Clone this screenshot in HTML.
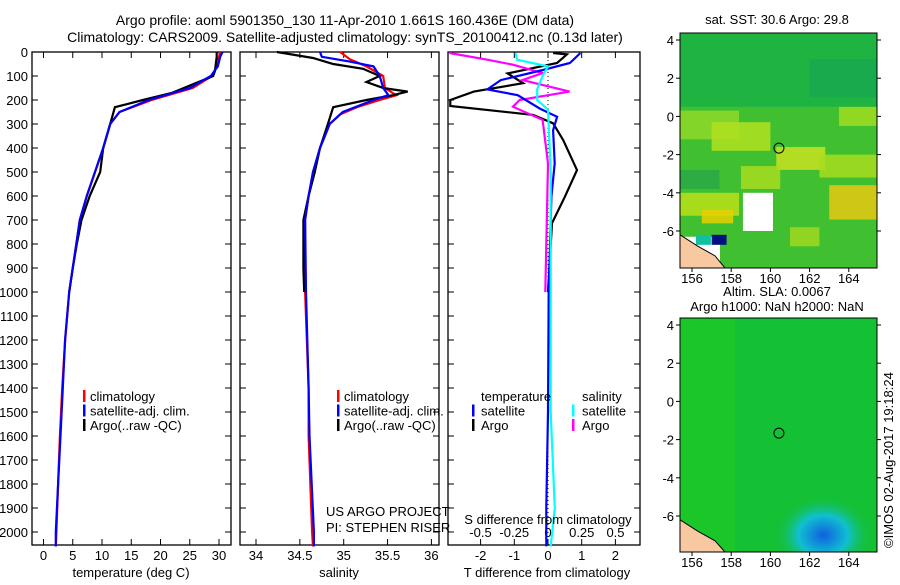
<!DOCTYPE html>
<html><head><meta charset="utf-8"><style>
body{margin:0;background:#fff;}
svg text{font-family:"Liberation Sans",sans-serif;font-size:13px;fill:#000;}
</style></head><body>
<svg id="c" width="900" height="580" viewBox="0 0 900 580">
<text x="345" y="25" text-anchor="middle" style="font-size:14px">Argo profile: aoml 5901350_130 11-Apr-2010 1.661S 160.436E (DM data)</text>
<text x="345" y="42" text-anchor="middle" style="font-size:14px">Climatology: CARS2009. Satellite-adjusted climatology: synTS_20100412.nc (0.13d later)</text>
<g id="plots"></g>
<g id="maps"></g>
<text transform="translate(893,548) rotate(-90)" style="font-size:13px">©IMOS 02-Aug-2017 19:18:24</text>
</svg>
<script>
// ---- data ----
const tClimDepth=[0,20,60,100,150,200,250,300,400,500,600,700,800,1000,1200,1400,1600,1800,2000,2060];
const tClim=[30.2,30,29.6,28.8,25.5,18.5,13,11.4,10.2,8.8,7.4,6.2,5.6,4.4,3.7,3.2,2.8,2.5,2.2,2.1];
const tSat=[30.6,30.2,29.8,28.6,25,18,13,11.4,10.2,8.8,7.4,6.2,5.6,4.4,3.7,3.3,2.9,2.5,2.1,2.1];
const tArgoDepth=[0,20,80,100,170,200,230,300,400,500,600,700,800,900,1000];
const tArgo=[29.6,29.6,29.3,29,22,17,12.2,11.4,10.2,9.7,7.9,6.5,5.7,5,4.4];
const sClimDepth=[0,30,60,100,150,180,200,230,260,300,400,500,600,700,1000,1400,1600,2000,2060];
const sClim=[34.96,35.07,35.26,35.45,35.47,35.6,35.41,35.15,34.96,34.84,34.73,34.65,34.6,34.56,34.56,34.6,34.6,34.64,34.65];
const sSatDepth=[0,20,40,60,100,150,180,200,250,300,400,500,600,700,1000,1400,1600,2000,2060];
const sSat=[34.73,34.75,35.07,35.34,35.41,35.45,35.51,35.34,34.99,34.84,34.73,34.65,34.6,34.56,34.57,34.6,34.61,34.66,34.66];
const sArgoDepth=[0,25,50,70,100,125,150,165,180,200,230,300,400,500,600,700,900,1000];
const sArgo=[34.24,34.65,34.88,35.22,35.41,35.26,35.45,35.73,35.56,35.26,34.88,34.82,34.73,34.67,34.6,34.54,34.54,34.55];
const dtArgoDepth=[4,10,46,89,130,165,200,225,262,297,367,492,603,713,1000];
const dtArgo=[0.15,0.56,0.27,-1.2,-0.74,-2.2,-2.9,-2.9,-0.44,0.15,0.45,0.86,0.5,0.12,0];
const dtSatDepth=[4,46,75,117,156,180,236,270,326,464,603,1000,1500,1900,2060];
const dtSat=[0.96,0.65,-0.15,-1.4,-1.8,-0.9,-0.24,0.27,0.15,0.2,0.1,0.02,0,-0.05,-0.05];
const dsSatDepth=[4,32,60,100,156,200,240,500,1000,1500,1900,2060];
const dsSat=[-0.24,-0.23,0,-0.04,-0.08,-0.08,0,0.02,0.02,0.02,0.05,0.02];
const dsArgoDepth=[4,32,53,88,117,165,200,228,283,464,1000];
const dsArgo=[-0.73,-0.45,-0.26,-0.04,-0.19,0.16,-0.21,-0.26,-0.04,0,-0.02];
const depthTicks=[0,100,200,300,400,500,600,700,800,900,1000,1100,1200,1300,1400,1500,1600,1700,1800,1900,2000];
const tTicks=[0,5,10,15,20,25,30];
const sTicks=[34,34.5,35,35.5,36];
const sTickLabels=["34","34.5","35","35.5","36"];
const dtTicks=[-2,-1,0,1,2];
const dsTicks=[-0.5,-0.25,0,0.25,0.5];
const lonTicks=[156,158,160,162,164];
const latTicks=[4,2,0,-2,-4,-6];

const NS='http://www.w3.org/2000/svg';
function mk(tag,attrs,parent,txt){const e=document.createElementNS(NS,tag);for(const k in attrs)e.setAttribute(k,attrs[k]);if(txt!==undefined)e.textContent=txt;parent.appendChild(e);return e;}
const plots=document.getElementById('plots');
const TOP=52,BOT=545;
const yD=d=>TOP+d*0.24;
const xT=t=>43.5+t*5.85;
const xS=s=>256+(s-34)*87.7;
const xDT=v=>548+v*33.7;
const xDS=v=>548+v*135;

function frame(x0,x1,name){
  const r=mk('rect',{x:x0,y:TOP,width:x1-x0,height:BOT-TOP,fill:'none',stroke:'#000','stroke-width':1.3},plots);
  
  
  depthTicks.forEach(d=>{
    mk('line',{x1:x0,x2:x0+6,y1:yD(d),y2:yD(d),stroke:'#000'},plots);
    mk('line',{x1:x1,x2:x1-6,y1:yD(d),y2:yD(d),stroke:'#000'},plots);
  });
}
function xticks(vals,fx,labels,y,name){
  vals.forEach((v,i)=>{
    const x=fx(v);
    mk('line',{x1:x,x2:x,y1:BOT,y2:BOT-6,stroke:'#000'},plots);
    mk('line',{x1:x,x2:x,y1:TOP,y2:TOP+6,stroke:'#000'},plots);
    const t=mk('text',{x:x,y:y,'text-anchor':'middle'},plots,labels[i]);
    
    
  });
}
function line(depths,vals,fx,color,name,w){
  const pts=depths.map((d,i)=>fx(vals[i]).toFixed(1)+','+yD(d).toFixed(1)).join(' ');
  const p=mk('polyline',{points:pts,fill:'none',stroke:color,'stroke-width':w||2.2},plots);
  
  
}
// panel 1
frame(32,231,'temperature-panel');
depthTicks.forEach(d=>{
  const t=mk('text',{x:28,y:yD(d)+5,'text-anchor':'end'},plots,String(d));
  
  
});
xticks(tTicks,xT,tTicks.map(String),560,'temperature-tick-label');
line(tClimDepth,tClim,xT,'#f00','temperature-climatology-line');
line(tArgoDepth,tArgo,xT,'#000','temperature-argo-line');
line(tClimDepth,tSat,xT,'#00f','temperature-satellite-line');
// panel 2
frame(240,439,'salinity-panel');
xticks(sTicks,xS,sTickLabels,560,'salinity-tick-label');
line(sClimDepth,sClim,xS,'#f00','salinity-climatology-line');
line(sArgoDepth,sArgo,xS,'#000','salinity-argo-line');
line(sSatDepth,sSat,xS,'#00f','salinity-satellite-line');
// panel 3
frame(448,640,'difference-panel');
mk('line',{x1:xDT(0),x2:xDT(0),y1:TOP,y2:BOT,stroke:'#000','stroke-dasharray':'1,3'},plots);
xticks(dtTicks,xDT,dtTicks.map(String),560,'t-diff-tick-label');
dsTicks.forEach(v=>{
  const t=mk('text',{x:xDS(v),y:537,'text-anchor':'middle'},plots,String(v));
  
  
});
line(dtArgoDepth,dtArgo,xDT,'#000','t-diff-argo-line');
line(dsArgoDepth,dsArgo,xDS,'#f0f','s-diff-argo-line');
line(dtSatDepth,dtSat,xDT,'#00f','t-diff-satellite-line');
line(dsSatDepth,dsSat,xDS,'#0ff','s-diff-satellite-line');

function lbl(x,y,s,name,anchor){const t=mk('text',{x:x,y:y,'text-anchor':anchor||'start'},plots,s);}
function bar(x,y,c){mk('rect',{x:x,y:y-11,width:2.5,height:12,fill:c},plots);}
lbl(131,577,'temperature (deg C)','temperature-axis-title','middle');
lbl(339,577,'salinity','salinity-axis-title','middle');
lbl(547,577,'T difference from climatology','t-diff-axis-title','middle');
lbl(548,524,'S difference from climatology','s-diff-axis-title','middle');
[['climatology','#f00'],['satellite-adj. clim.','#00f'],['Argo(..raw -QC)','#000']].forEach((e,i)=>{
  bar(83,401+i*14.5,e[1]);lbl(90,401+i*14.5,e[0],'temperature-legend-entry');
  bar(337,401+i*14.5,e[1]);lbl(344,401+i*14.5,e[0],'salinity-legend-entry');
});
lbl(481,401,'temperature','diff-legend-temperature-header');
lbl(582,401,'salinity','diff-legend-salinity-header');
bar(472,415.5,'#00f');lbl(481,415.5,'satellite','diff-legend-t-satellite');
bar(472,430,'#000');lbl(481,430,'Argo','diff-legend-t-argo');
bar(572,415.5,'#0ff');lbl(582,415.5,'satellite','diff-legend-s-satellite');
bar(572,430,'#f0f');lbl(582,430,'Argo','diff-legend-s-argo');
lbl(326,516,'US ARGO PROJECT','project-label');
lbl(326,532,'PI: STEPHEN RISER','pi-label');

// ---- maps ----
const maps=document.getElementById('maps');
const MX0=680,MX1=877;
const xLon=l=>692+(l-156)*19.6;
function map(top,bot,name,title1,title2,kind){
  const yLat=la=>top+7+(4-la)*19.1;
  const cp=mk('clipPath',{id:'clip-'+kind},maps);
  mk('rect',{x:MX0,y:top,width:MX1-MX0,height:bot-top},cp);
  const g=mk('g',{},maps);
  
  
  const gi=mk('g',{'clip-path':'url(#clip-'+kind+')'},g);
  if(kind==='sst'){
    mk('rect',{x:MX0,y:top,width:MX1-MX0,height:bot-top,fill:'#1fb442'},gi);
    mk('rect',{x:MX0,y:yLat(0.5),width:MX1-MX0,height:bot-yLat(0.5),fill:'#40c030'},gi);
    const patches=[[155.4,-1.2,3,1.5,'#90d828'],[157,-1.8,3,1.5,'#b0e020'],[160.3,-2.8,2.5,1.2,'#c8e020'],[158.5,-3.8,2,1.2,'#a8dc20'],[155.4,-5.2,3,1.2,'#b8e018'],[156.5,-5.6,1.6,0.7,'#e8d000'],[163,-5.4,2.6,1.8,'#e8c810'],[162.5,-3.2,3,1.2,'#a8dc20'],[163.5,-0.5,2,1,'#a0dc20'],[161,-6.8,1.5,1,'#a0d820'],[155.4,-3.8,2,1,'#2aa848'],[162,1,3.5,2,'#1aa850']];
    patches.forEach(p=>mk('rect',{x:xLon(p[0]),y:yLat(p[1]+p[3]),width:p[2]*19.6,height:p[3]*19.1,fill:p[4],opacity:0.85},gi));
    mk('rect',{x:xLon(158.6),y:yLat(-4),width:30,height:yLat(-6)-yLat(-4),fill:'#fff'},gi);
    mk('rect',{x:MX0,y:yLat(-6.3),width:40,height:bot-yLat(-6.3),fill:'#fff'},gi);
    mk('rect',{x:xLon(157),y:yLat(-6.2),width:15,height:10,fill:'#001080'},gi);
    mk('rect',{x:xLon(156.2),y:yLat(-6.2),width:15,height:10,fill:'#10c0a0'},gi);
  } else {
    mk('rect',{x:MX0,y:top,width:MX1-MX0,height:bot-top,fill:'#14c034'},gi);
    mk('rect',{x:MX0,y:top,width:55,height:bot-top,fill:'#28d018',opacity:0.35},gi);
    const rg=mk('radialGradient',{id:'blob'},gi);
    mk('stop',{offset:'0','stop-color':'#1060e0'},rg);mk('stop',{offset:'0.5','stop-color':'#10c0d0'},rg);mk('stop',{offset:'1','stop-color':'#14c034','stop-opacity':0},rg);
    mk('ellipse',{cx:xLon(162.7),cy:yLat(-7),rx:50,ry:40,fill:'url(#blob)'},gi);
  }
  mk('path',{d:`M${MX0} ${yLat(-6.2)} L${MX0+18} ${yLat(-6.8)} L${MX0+35} ${yLat(-7.3)} L${MX0+45} ${bot} L${MX0} ${bot}Z`,fill:'#f8c8a0',stroke:'#000'},gi);
  mk('circle',{cx:xLon(160.436),cy:yLat(-1.661),r:5,fill:'none',stroke:'#000'},g);
  mk('rect',{x:MX0,y:top,width:MX1-MX0,height:bot-top,fill:'none',stroke:'#000'},g);
  lonTicks.forEach(l=>{mk('line',{x1:xLon(l),x2:xLon(l),y1:bot,y2:bot+4,stroke:'#000'},g);
    const t=mk('text',{x:xLon(l),y:bot+15,'text-anchor':'middle'},g,String(l));});
  latTicks.forEach(la=>{mk('line',{x1:MX0,x2:MX0-4,y1:yLat(la),y2:yLat(la),stroke:'#000'},g);mk('line',{x1:MX1,x2:MX1+4,y1:yLat(la),y2:yLat(la),stroke:'#000'},g);
    const t=mk('text',{x:MX0-6,y:yLat(la)+5,'text-anchor':'end'},g,String(la));});
  if(title2){const a=mk('text',{x:777,y:top-22,'text-anchor':'middle'},g,title1);
    const b=mk('text',{x:777,y:top-7,'text-anchor':'middle'},g,title2);}
  else{const a=mk('text',{x:777,y:top-9,'text-anchor':'middle'},g,title1);}
}
map(33,268,'sst-map','sat. SST: 30.6 Argo: 29.8',null,'sst');
map(318,552,'sla-map','Altim. SLA: 0.0067','Argo h1000: NaN h2000: NaN','sla');
</script>
</body></html>
